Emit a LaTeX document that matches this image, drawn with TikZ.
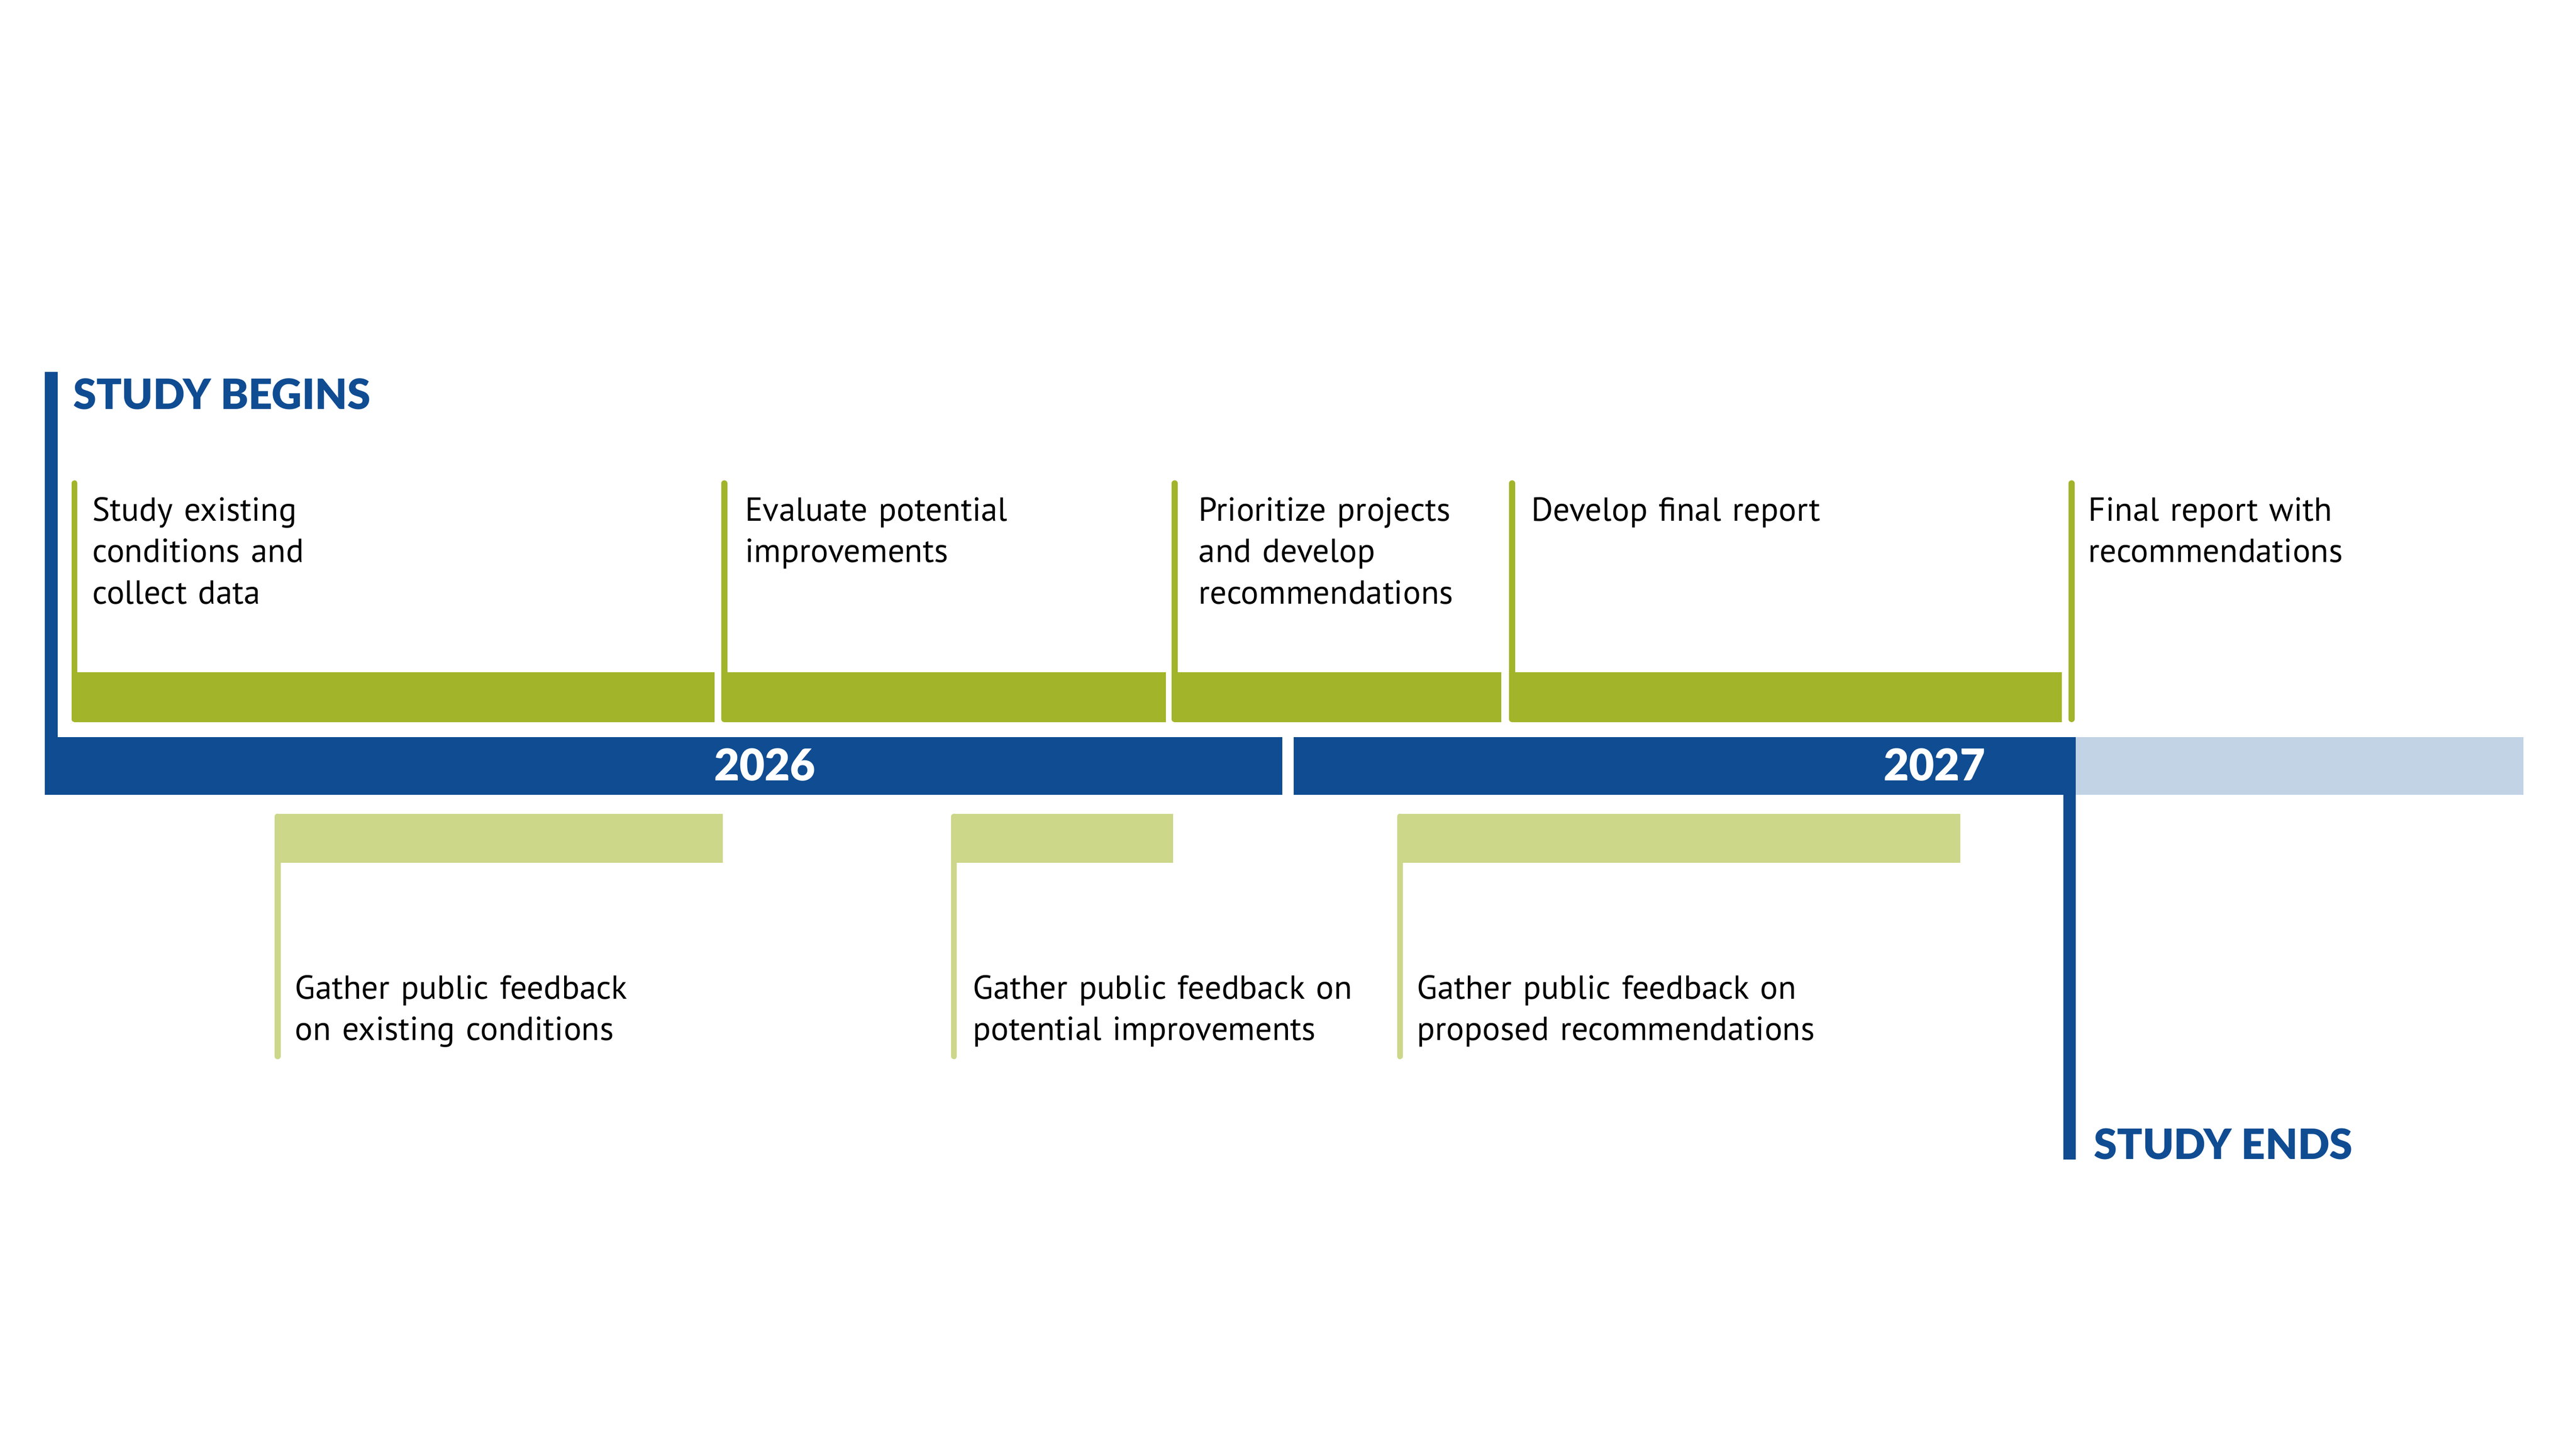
\documentclass[tikz,border=0pt]{standalone}
\usepackage{fontspec}
\setmainfont{PT Sans}
\newfontfamily\headfont{Lato Black}
\usepackage{tikz}
\usetikzlibrary{positioning}
\definecolor{studyblue}{RGB}{15,76,146}
\definecolor{paleblue}{RGB}{194,211,229}
\definecolor{taskgreen}{RGB}{162,180,41}
\definecolor{palegreen}{RGB}{204,215,138}

\begin{document}
\begin{tikzpicture}[x=1pt,y=-1pt,
    task/.style = {anchor=base west, inner sep=0pt, text width=320pt, align=left,
            font=\fontsize{20.2}{25}\selectfont},
    head/.style = {anchor=base west, inner sep=0pt, text=studyblue,
            font=\headfont\fontsize{25.3}{30}\selectfont},
    year/.style = {anchor=base, inner sep=0pt, text=white,
            font=\headfont\fontsize{26.5}{30}\selectfont},
    stem/.style = {line width=3.6pt, line cap=round, draw=#1}]
    \useasboundingbox (0,0) rectangle (1560,877.5);
    % timeline
    \fill[studyblue] (27.2,225.3) rectangle (34.9,481.5);
    \fill[studyblue] (27.2,446.6) rectangle (776.6,481.5);
    \fill[studyblue] (783.4,446.6) rectangle (1257,481.5);
    \fill[paleblue] (1257,446.6) rectangle (1528,481.5);
    \fill[studyblue] (1249.4,481.5) rectangle (1257,702.2);
    \node[head] (begins) at (44.2,248) {STUDY BEGINS};
    \node[head] (ends) at (1268,702.2) {STUDY ENDS};
    \node[year] (y26) at (463.2,472.8) {2026};
    \node[year] (y27) at (1171.5,472.8) {2027};
    % tasks above the line
    \foreach \x/\r in {43.3/432.7, 436.8/706.1, 709.6/909.2, 913.9/1248.7}{
        \fill[taskgreen] (\x+1.8,407.3) rectangle (\r,437.4);
        \draw[stem=taskgreen] (\x+1.8,292.7) -- (\x+1.8,435.6);
    }
    \draw[stem=taskgreen] (1254.5,292.7) -- (1254.5,435.6);
    \node[task] (t1) at (55.8,315.7) {Study existing\\conditions and\\collect data};
    \node[task] (t2) at (451.0,315.7) {Evaluate potential\\improvements};
    \node[task] (t3) at (725.8,315.7) {Prioritize projects\\and develop\\recommendations};
    \node[task] (t4) at (927.1,315.7) {Develop final report};
    \node[task] (t5) at (1264.6,315.7) {Final report with\\recommendations};
    % public feedback below the line
    \foreach \x/\r in {166.3/437.8, 575.9/710.5, 846.0/1187}{
        \fill[palegreen] (\x+1.8,492.8) rectangle (\r,522.6);
        \draw[stem=palegreen] (\x+1.8,494.6) -- (\x+1.8,639.8);
    }
    \node[task] (b1) at (178.5,605.1) {Gather public feedback\\on existing conditions};
    \node[task] (b2) at (589.0,605.1) {Gather public feedback on\\potential improvements};
    \node[task] (b3) at (858.0,605.1) {Gather public feedback on\\proposed recommendations};
\end{tikzpicture}
\end{document}
